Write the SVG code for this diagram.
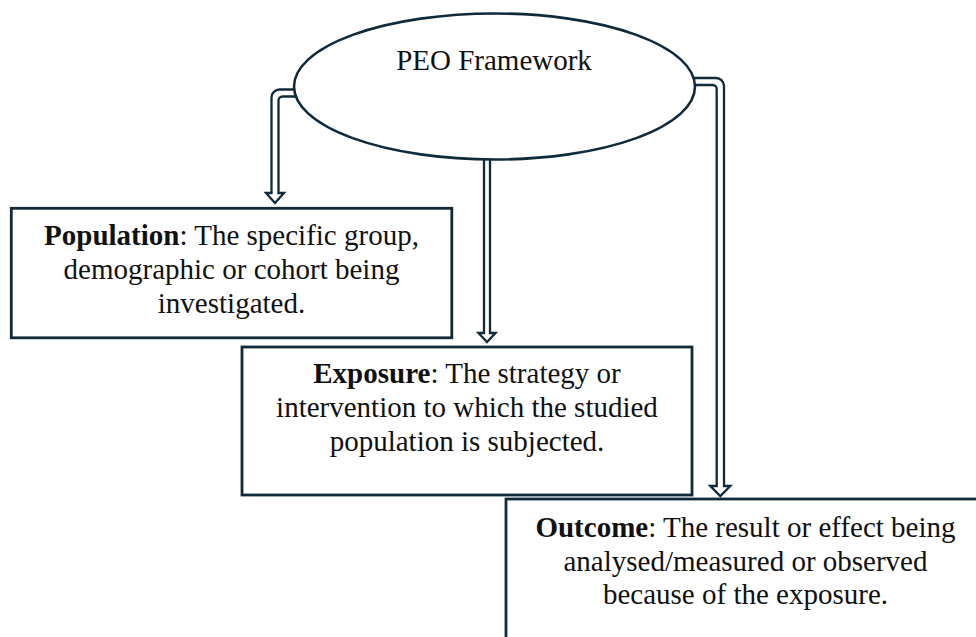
<svg xmlns="http://www.w3.org/2000/svg" width="976" height="637" viewBox="0 0 976 637">
<style>
.bg{fill:#ffffff}
.box{fill:#ffffff;stroke:#112a3b;stroke-width:2.8}
.ell{fill:#ffffff;stroke:#112a3b;stroke-width:2.6}
.arr{fill:#ffffff;stroke:#112a3b;stroke-width:2.3;stroke-linejoin:miter}
.t{font-family:"Liberation Serif","Times New Roman",serif;font-size:29px;fill:#111111;text-anchor:middle}
.b{font-weight:bold}
</style>
<rect class="bg" x="0" y="0" width="976" height="637"/>
<g id="connectors">
  <path id="arrow-population" class="arr" d="M 300 89.5 H 279.5 A 8 8 0 0 0 271.5 97.5 V 193 H 266 L 275 203 L 284 193 H 278.5 V 100.5 A 4 4 0 0 1 282.5 96.5 H 300 Z"/>
  <path id="arrow-exposure" class="arr" d="M 484 150 V 333 H 478.5 L 487 342 L 495.5 333 H 490 V 150 Z"/>
  <path id="arrow-outcome" class="arr" d="M 690 78 H 716 A 8 8 0 0 1 724 86 V 486 H 730.3 L 720.3 496 L 710.3 486 H 716.7 V 89 A 4 4 0 0 0 712.7 85 H 690 Z"/>
</g>
<g id="node-peo">
  <ellipse class="ell" cx="494.5" cy="86.5" rx="200.5" ry="73"/>
  <text class="t" x="494" y="70">PEO Framework</text>
</g>
<g id="node-population">
  <rect class="box" x="11.3" y="208.3" width="440.5" height="129.5"/>
  <text class="t" x="231.5" y="245"><tspan class="b">Population</tspan>: The specific group,</text>
  <text class="t" x="231.5" y="279">demographic or cohort being</text>
  <text class="t" x="231.5" y="313">investigated.</text>
</g>
<g id="node-exposure">
  <rect class="box" x="242" y="347" width="450" height="148"/>
  <text class="t" x="467" y="383"><tspan class="b">Exposure</tspan>: The strategy or</text>
  <text class="t" x="467" y="417">intervention to which the studied</text>
  <text class="t" x="467" y="451">population is subjected.</text>
</g>
<g id="node-outcome">
  <rect class="box" x="506" y="499" width="480" height="160"/>
  <text class="t" x="745.5" y="537"><tspan class="b">Outcome</tspan>: The result or effect being</text>
  <text class="t" x="745.5" y="571">analysed/measured or observed</text>
  <text class="t" x="745.5" y="604">because of the exposure.</text>
</g>
</svg>
